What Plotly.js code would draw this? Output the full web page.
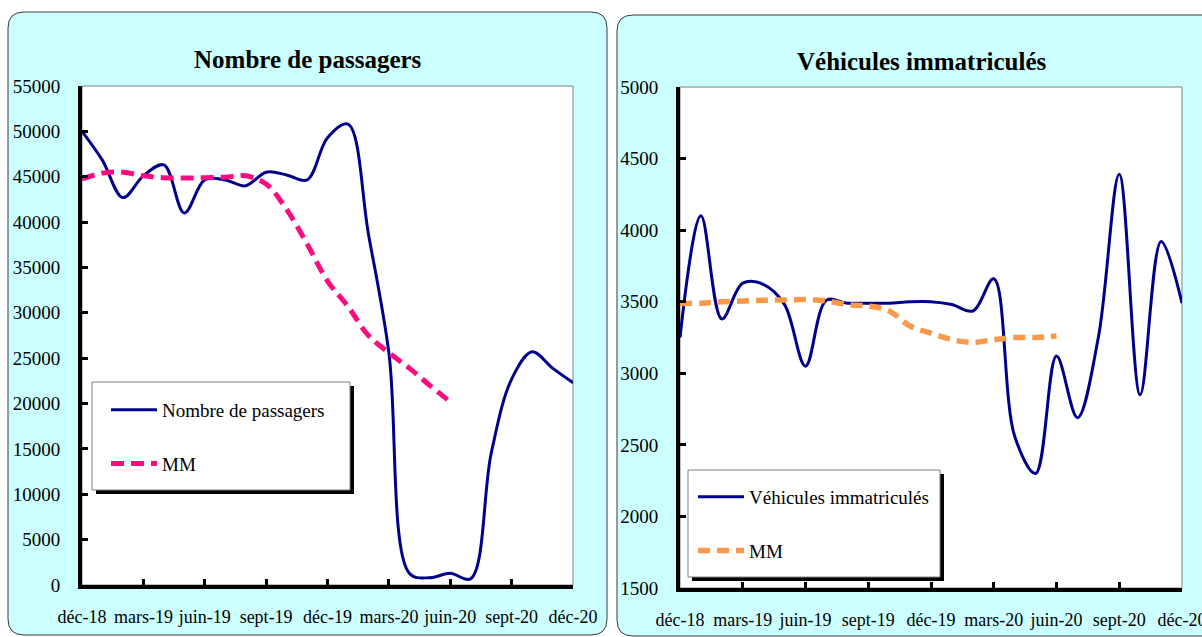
<!DOCTYPE html>
<html>
<head>
<meta charset="utf-8">
<script src="https://cdn.plot.ly/plotly-3.0.1.min.js"></script>
<style>
html,body{margin:0;padding:0;background:#fff;}
#chart{width:1202px;height:637px;}
</style>
</head>
<body>
<div id="chart"></div>
<script>
// ---- data ----
const months = ['déc-18','janv-19','févr-19','mars-19','avr-19','mai-19','juin-19','juil-19','août-19','sept-19','oct-19','nov-19',
  'déc-19','janv-20','févr-20','mars-20','avr-20','mai-20','juin-20','juil-20','août-20','sept-20','oct-20','nov-20','déc-20'];
const tickLabels = ['déc-18','mars-19','juin-19','sept-19','déc-19','mars-20','juin-20','sept-20','déc-20'];

const passagers = [50000, 46800, 42700, 45100, 46300, 41000, 44650, 44650, 44000, 45500, 45200, 44650,
  49300, 50800, 38700, 25600, 1300, 800, 1300, 700, 14500, 22700, 25700, 23900, 22300];
const passagersMM = [44750, 45400, 45500, 45100, 44900, 44850, 44900, 44950, 45100, 44200, 41400, 37600,
  33500, 30700, 27500, 25600, 23900, 22000, 20200];

const vehicules = [3250, 4100, 3380, 3630, 3620, 3480, 3050, 3510, 3490, 3490, 3490, 3500,
  3500, 3480, 3435, 3660, 2560, 2300, 3120, 2690, 3250, 4390, 2850, 3920, 3490];
const vehiculesMM = [3488, 3490, 3500, 3505, 3510, 3512, 3515, 3505, 3480, 3470, 3435, 3330,
  3280, 3235, 3215, 3235, 3250, 3250, 3260];

// ---- geometry helpers (pixel -> paper) ----
const W = 1202, H = 637;
const X = x => x / W;
const Y = y => 1 - y / H;
function rr(x0, y0, x1, y1, r) {
  return 'M' + X(x0 + r) + ',' + Y(y0) + ' L' + X(x1 - r) + ',' + Y(y0) +
    ' Q' + X(x1) + ',' + Y(y0) + ' ' + X(x1) + ',' + Y(y0 + r) +
    ' L' + X(x1) + ',' + Y(y1 - r) +
    ' Q' + X(x1) + ',' + Y(y1) + ' ' + X(x1 - r) + ',' + Y(y1) +
    ' L' + X(x0 + r) + ',' + Y(y1) +
    ' Q' + X(x0) + ',' + Y(y1) + ' ' + X(x0) + ',' + Y(y1 - r) +
    ' L' + X(x0) + ',' + Y(y0 + r) +
    ' Q' + X(x0) + ',' + Y(y0) + ' ' + X(x0 + r) + ',' + Y(y0) + ' Z';
}
function rect(x0, y0, x1, y1, fill, lineColor, lw, layer) {
  return {type: 'rect', xref: 'paper', yref: 'paper', x0: X(x0), x1: X(x1), y0: Y(y1), y1: Y(y0),
    fillcolor: fill, line: {color: lineColor, width: lw}, layer: layer};
}

const FONT = 'Liberation Serif, Times New Roman, serif';
const NAVY = '#00008B', PINK = '#FF0A80', ORANGE = '#F99A4B';

const traces = [
  {x: months, y: passagers, name: 'Nombre de passagers', type: 'scatter', mode: 'lines',
   line: {color: NAVY, width: 3, shape: 'spline', smoothing: 1}, xaxis: 'x', yaxis: 'y',
   legend: 'legend', legendgroup: 'a'},
  {x: months.slice(0, passagersMM.length), y: passagersMM, name: 'MM', type: 'scatter', mode: 'lines',
   line: {color: PINK, width: 5, dash: '13px,7px', shape: 'spline', smoothing: 1}, xaxis: 'x', yaxis: 'y',
   legend: 'legend', legendgroup: 'b'},
  {x: months, y: vehicules, name: 'Véhicules immatriculés', type: 'scatter', mode: 'lines',
   line: {color: NAVY, width: 3, shape: 'spline', smoothing: 1}, xaxis: 'x2', yaxis: 'y2',
   legend: 'legend2', legendgroup: 'c'},
  {x: months.slice(0, vehiculesMM.length), y: vehiculesMM, name: 'MM', type: 'scatter', mode: 'lines',
   line: {color: ORANGE, width: 5.5, dash: '12px,7px', shape: 'spline', smoothing: 1}, xaxis: 'x2', yaxis: 'y2',
   legend: 'legend2', legendgroup: 'd'}
];

function xAxis(domain, anchor) {
  return {domain: domain, anchor: anchor, type: 'category', range: [0, 24],
    tickmode: 'array', tickvals: tickLabels, ticktext: tickLabels,
    ticks: 'inside', ticklen: 6, tickwidth: 3, tickcolor: '#000',
    showline: true, linewidth: 4, linecolor: '#000', showgrid: false, zeroline: false,
    tickfont: {family: FONT, size: 18, color: '#000'}, ticklabelstandoff: 12, fixedrange: true};
}
function yAxis(domain, anchor, range, dtick) {
  return {domain: domain, anchor: anchor, range: range, tick0: range[0], dtick: dtick, tickformat: 'd',
    ticks: 'inside', ticklen: 6, tickwidth: 3, tickcolor: '#000',
    showline: true, linewidth: 4, linecolor: '#000', showgrid: false, zeroline: false,
    tickfont: {family: FONT, size: 19, color: '#000'}, ticklabelstandoff: 14, fixedrange: true};
}
function legendCfg(x, y) {
  return {x: X(x), y: Y(y), xanchor: 'left', yanchor: 'top', bgcolor: 'rgba(0,0,0,0)', borderwidth: 0,
    font: {family: FONT, size: 19, color: '#000'}, itemwidth: 46, tracegroupgap: 26, traceorder: 'grouped'};
}

const layout = {
  width: W, height: H, margin: {l: 0, r: 0, t: 0, b: 0},
  paper_bgcolor: '#fff', plot_bgcolor: 'rgba(0,0,0,0)', showlegend: true,
  xaxis: xAxis([X(82), X(573)], 'y'),
  yaxis: yAxis([Y(585), Y(86)], 'x', [0, 55000], 5000),
  xaxis2: xAxis([X(680), X(1182)], 'y2'),
  yaxis2: yAxis([Y(588), Y(87)], 'x2', [1500, 5000], 500),
  legend: legendCfg(106, 391),
  legend2: legendCfg(693, 478),
  shapes: [
    {type: 'path', xref: 'paper', yref: 'paper', path: rr(8, 12, 607, 635, 16), fillcolor: '#CCFFFF',
     line: {color: '#3a3a3a', width: 1}, layer: 'below'},
    {type: 'path', xref: 'paper', yref: 'paper', path: rr(617, 15, 1230, 636, 16), fillcolor: '#CCFFFF',
     line: {color: '#3a3a3a', width: 1}, layer: 'below'},
    rect(82, 86, 573, 585, '#fff', '#808080', 1, 'below'),
    rect(680, 87, 1182, 588, '#fff', '#808080', 1, 'below'),
    rect(96, 386, 354, 494, '#000', '#000', 0, 'above'),
    rect(92, 382, 350, 490, '#fff', '#808080', 1, 'above'),
    rect(692, 474, 944, 581, '#000', '#000', 0, 'above'),
    rect(688, 470, 940, 577, '#fff', '#808080', 1, 'above')
  ],
  annotations: [
    {text: '<b>Nombre de passagers</b>', xref: 'paper', yref: 'paper', x: X(308), y: Y(60),
     xanchor: 'center', yanchor: 'middle', showarrow: false, font: {family: FONT, size: 25, color: '#000'}},
    {text: '<b>Véhicules immatriculés</b>', xref: 'paper', yref: 'paper', x: X(922), y: Y(62),
     xanchor: 'center', yanchor: 'middle', showarrow: false, font: {family: FONT, size: 25, color: '#000'}}
  ]
};

Plotly.newPlot('chart', traces, layout, {displayModeBar: false, staticPlot: true});
</script>
</body>
</html>
